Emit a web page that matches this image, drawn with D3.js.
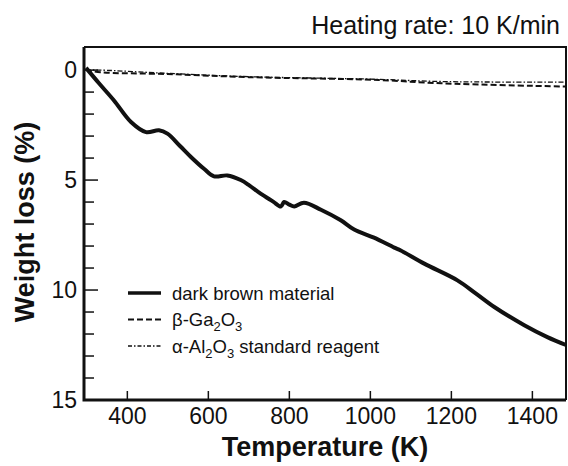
<!DOCTYPE html>
<html>
<head>
<meta charset="utf-8">
<script src="https://cdn.jsdelivr.net/npm/d3@7"></script>
<style>
  body { margin: 0; background: #fff; }
  svg text { font-family: "Liberation Sans", Arial, sans-serif; fill: #111; }
</style>
</head>
<body>
<div id="chart"></div>
<script>
// dark brown material (TG curve)
const brownTemp = [298, 330, 367, 409, 446, 478, 499, 530, 557, 590, 614, 647, 680, 701, 729, 760, 779, 787, 800, 812, 836, 878, 927, 960, 1009, 1059, 1075, 1133, 1215, 1260, 1306, 1380, 1437, 1483];
const brownLoss = [-0.1, 0.6, 1.38, 2.36, 2.82, 2.74, 2.89, 3.45, 3.95, 4.5, 4.83, 4.79, 5.0, 5.24, 5.62, 5.98, 6.2, 6.0, 6.12, 6.2, 6.03, 6.35, 6.83, 7.25, 7.62, 8.07, 8.2, 8.8, 9.56, 10.15, 10.77, 11.6, 12.14, 12.5];

// beta-Ga2O3
const gaTemp = [298, 334, 500, 700, 1020, 1175, 1483];
const gaLoss = [0, 0.1, 0.18, 0.32, 0.45, 0.6, 0.75];

// alpha-Al2O3 standard reagent
const alTemp = [298, 334, 500, 700, 1020, 1175, 1483];
const alLoss = [0, 0, 0.15, 0.3, 0.42, 0.52, 0.55];

const xTicks = [400, 600, 800, 1000, 1200, 1400];
const yMajor = [0, 5, 10, 15];
const yMinor = d3.range(0, 16);

const width = 568, height = 466;
const svg = d3.select("#chart").append("svg")
    .attr("width", width)
    .attr("height", height);

const x = d3.scaleLinear().domain([293, 1483]).range([84, 566]);
const y = d3.scaleLinear().domain([-1.05, 15]).range([47, 400]);

// frame (top + right, thinner)
svg.append("path")
    .attr("d", `M${x.range()[0]},${y.range()[0]}H${x.range()[1]}V${y.range()[1]}`)
    .attr("fill", "none").attr("stroke", "#111").attr("stroke-width", 2);

// y axis, ticks inside
const yAxis = svg.append("g").attr("transform", `translate(${x.range()[0]},0)`);
yAxis.selectAll("line.minor")
    .data(yMinor)
    .enter().append("line")
        .attr("x1", 0).attr("x2", d => yMajor.includes(d) ? 14 : 10)
        .attr("y1", d => y(d)).attr("y2", d => y(d))
        .attr("stroke", "#111").attr("stroke-width", 1.5);
yAxis.selectAll("text")
    .data(yMajor)
    .enter().append("text")
        .attr("x", -7).attr("y", d => y(d))
        .attr("dy", "0.36em")
        .attr("text-anchor", "end")
        .attr("font-size", 23)
        .text(d => d);

// x axis, ticks inside
const xAxis = svg.append("g").attr("transform", `translate(0,${y.range()[1]})`);
xAxis.selectAll("line")
    .data(xTicks)
    .enter().append("line")
        .attr("x1", d => x(d)).attr("x2", d => x(d))
        .attr("y1", 0).attr("y2", -9)
        .attr("stroke", "#111").attr("stroke-width", 1.5);
xAxis.selectAll("text")
    .data(xTicks)
    .enter().append("text")
        .attr("x", d => x(d)).attr("y", 24)
        .attr("text-anchor", "middle")
        .attr("font-size", 23)
        .text(d => d);

// axis lines (thicker)
svg.append("path")
    .attr("d", `M${x.range()[0]},${y.range()[0]}V${y.range()[1]}H${x.range()[1]}`)
    .attr("fill", "none").attr("stroke", "#111").attr("stroke-width", 3);

// curves
const line = d3.line()
    .x(d => x(d[0]))
    .y(d => y(d[1]))
    .curve(d3.curveCatmullRom);

svg.append("path")
    .datum(d3.zip(gaTemp, gaLoss))
    .attr("d", line)
    .attr("fill", "none").attr("stroke", "#111")
    .attr("stroke-width", 2).attr("stroke-dasharray", "6,3");

svg.append("path")
    .datum(d3.zip(alTemp, alLoss))
    .attr("d", line)
    .attr("fill", "none").attr("stroke", "#111")
    .attr("stroke-width", 1.3).attr("stroke-dasharray", "5,2,1.5,2");

svg.append("path")
    .datum(d3.zip(brownTemp, brownLoss))
    .attr("d", line)
    .attr("fill", "none").attr("stroke", "#111")
    .attr("stroke-width", 4).attr("stroke-linejoin", "round");

// legend
const legend = svg.append("g");
const items = [
    { dash: null, w: 3.5, label: [["dark brown material", 0]] },
    { dash: "6,3", w: 1.8, label: [["β-Ga", 0], ["2", 1], ["O", 0], ["3", 1]] },
    { dash: "4,2,1.5,2", w: 1.3, label: [["α-Al", 0], ["2", 1], ["O", 0], ["3", 1], [" standard reagent", 0]] }
];
items.forEach((it, i) => {
    const yy = 293 + i * 26.5;
    legend.append("line")
        .attr("x1", 128).attr("x2", 161)
        .attr("y1", yy).attr("y2", yy)
        .attr("stroke", "#111").attr("stroke-width", it.w)
        .attr("stroke-dasharray", it.dash);
    const t = legend.append("text")
        .attr("x", 172).attr("y", yy + 6.5)
        .attr("font-size", 18.5);
    let sub = false;
    it.label.forEach(([s, isSub]) => {
        t.append("tspan")
            .attr("dy", isSub && !sub ? 5 : (!isSub && sub ? -5 : 0))
            .attr("font-size", isSub ? 13 : 18.5)
            .text(s);
        sub = !!isSub;
    });
});

// titles
svg.append("text")
    .attr("x", 560).attr("y", 34)
    .attr("text-anchor", "end")
    .attr("font-size", 25)
    .text("Heating rate: 10 K/min");

svg.append("text")
    .attr("x", 325).attr("y", 456)
    .attr("text-anchor", "middle")
    .attr("font-size", 27).attr("font-weight", "bold")
    .text("Temperature (K)");

svg.append("text")
    .attr("transform", "translate(34,222) rotate(-90)")
    .attr("text-anchor", "middle")
    .attr("font-size", 27).attr("font-weight", "bold")
    .text("Weight loss (%)");
</script>
</body>
</html>
